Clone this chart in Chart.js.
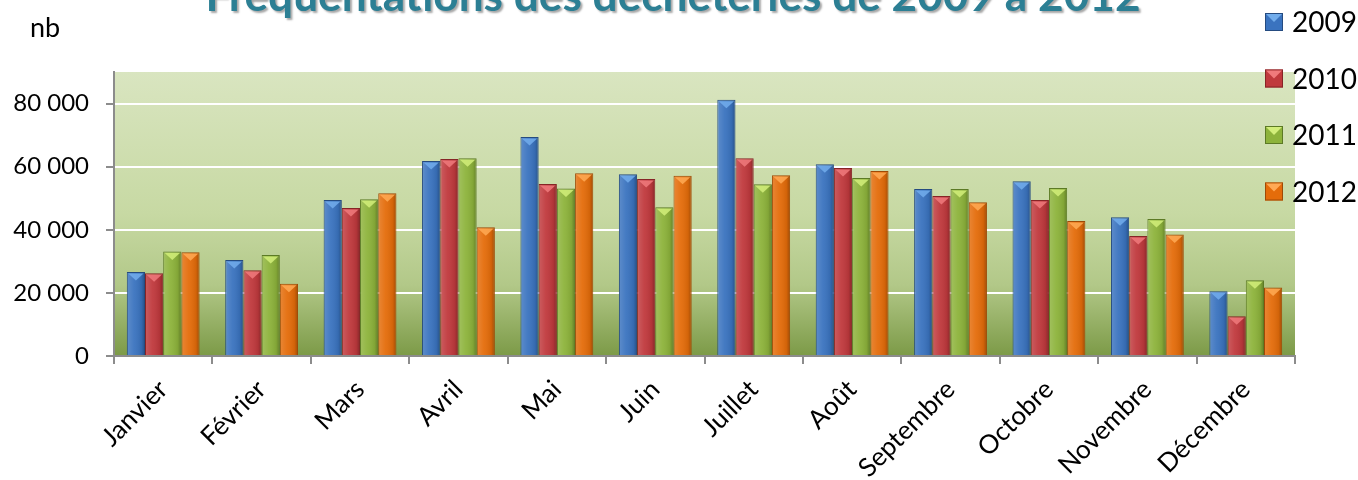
<!DOCTYPE html>
<html>
<head>
<meta charset="utf-8">
<script src="https://cdn.jsdelivr.net/npm/chart.js@4"></script>
<style>
  html, body { margin: 0; padding: 0; background: #fff; }
  #wrap { width: 1358px; height: 480px; }
</style>
</head>
<body>
<div id="wrap"><canvas id="chart"></canvas></div>
<script>
const months = ["Janvier", "Février", "Mars", "Avril", "Mai", "Juin", "Juillet", "Août", "Septembre", "Octobre", "Novembre", "Décembre"];
const years = ["2009", "2010", "2011", "2012"];

const visits2009 = [26600, 30400, 49400, 61800, 69400, 57600, 81200, 60800, 52900, 55400, 44000, 20500];
const visits2010 = [26200, 27200, 46900, 62400, 54500, 56100, 62700, 59600, 50700, 49400, 38000, 12600];
const visits2011 = [33100, 32000, 49700, 62700, 53100, 47100, 54400, 56400, 52900, 53200, 43400, 24000];
const visits2012 = [32900, 22900, 51600, 40800, 57900, 57100, 57300, 58600, 48700, 42800, 38500, 21700];

const yTicks = [0, 20000, 40000, 60000, 80000];

const barColors = ["#3a73bf", "#c0393d", "#8db33b", "#e46c0a"];
const barBorders = ["#254b80", "#862426", "#5c7a25", "#9e4a06"];
const barLights = ["#72adec", "#f07a7c", "#d2ee7a", "#ffaa55"];

const FONT = "Lato, 'Open Sans', sans-serif";

// plot background, gradient light at the top to dark olive at the bottom
const plotBackground = {
  id: 'plotBackground',
  beforeDraw(chart) {
    const { ctx, chartArea: a } = chart;
    const g = ctx.createLinearGradient(0, a.top, 0, a.bottom);
    g.addColorStop(0, '#d9e5c0');
    g.addColorStop(0.5, '#c7d9a3');
    g.addColorStop(0.75, '#b2c888');
    g.addColorStop(1, '#7c9a47');
    ctx.save();
    ctx.fillStyle = g;
    ctx.fillRect(a.left, a.top, a.right - a.left, a.bottom - a.top);
    ctx.restore();
  }
};

// bevel look on each bar: side shading and a light triangle at the top
const barBevel = {
  id: 'barBevel',
  afterDatasetsDraw(chart) {
    const ctx = chart.ctx;
    chart.data.datasets.forEach((ds, i) => {
      const meta = chart.getDatasetMeta(i);
      meta.data.forEach(bar => {
        const left = bar.x - bar.width / 2;
        const right = bar.x + bar.width / 2;
        const top = bar.y;
        const h = bar.base - bar.y;
        ctx.save();
        const g = ctx.createLinearGradient(left, 0, right, 0);
        g.addColorStop(0, 'rgba(255,255,255,0.18)');
        g.addColorStop(0.4, 'rgba(255,255,255,0.05)');
        g.addColorStop(0.8, 'rgba(0,0,0,0.08)');
        g.addColorStop(1, 'rgba(0,0,0,0.3)');
        ctx.fillStyle = g;
        ctx.fillRect(left + 1, top + 1, right - left - 2, h - 1);
        const tri = Math.min(7, h / 2);
        ctx.fillStyle = barLights[i];
        ctx.globalAlpha = 0.85;
        ctx.beginPath();
        ctx.moveTo(left + 1.5, top + 1.5);
        ctx.lineTo(right - 1.5, top + 1.5);
        ctx.lineTo(bar.x, top + 1.5 + tri);
        ctx.closePath();
        ctx.fill();
        ctx.restore();
      });
    });
  }
};

// title (cut by the top edge), axis unit and legend
const decorations = {
  id: 'decorations',
  afterDraw(chart) {
    const ctx = chart.ctx;
    ctx.save();
    // title
    const title = "Fréquentations des déchèteries de 2009 à 2012";
    ctx.font = "bold 40px " + FONT;
    const w = ctx.measureText(title).width;
    const size = 40 * 935 / w;
    ctx.font = "bold " + size.toFixed(1) + "px " + FONT;
    ctx.textAlign = 'center';
    ctx.textBaseline = 'alphabetic';
    ctx.shadowColor = 'rgba(0,0,0,0.35)';
    ctx.shadowOffsetX = 2;
    ctx.shadowOffsetY = 2;
    ctx.shadowBlur = 2;
    ctx.fillStyle = '#2c7f94';
    ctx.fillText(title, 673, 11);
    ctx.shadowColor = 'transparent';

    // unit
    ctx.font = "27px " + FONT;
    ctx.fillStyle = '#000';
    ctx.textAlign = 'left';
    ctx.fillText("nb", 30, 37);

    // legend
    ctx.font = "28px " + FONT;
    ctx.textBaseline = 'middle';
    chart.data.datasets.forEach((ds, i) => {
      const cy = 22 + i * 56.5;
      const bx = 1265, by = cy - 9;
      ctx.fillStyle = barColors[i];
      ctx.fillRect(bx, by, 18, 18);
      ctx.strokeStyle = barBorders[i];
      ctx.lineWidth = 1;
      ctx.strokeRect(bx + 0.5, by + 0.5, 17, 17);
      ctx.fillStyle = barLights[i];
      ctx.beginPath();
      ctx.moveTo(bx + 1, by + 1);
      ctx.lineTo(bx + 17, by + 1);
      ctx.lineTo(bx + 9, by + 9);
      ctx.closePath();
      ctx.fill();
      ctx.fillStyle = '#000';
      ctx.fillText(ds.label, 1292, cy + 1);
    });
    ctx.restore();
  }
};

const seriesValues = [visits2009, visits2010, visits2011, visits2012];

new Chart(
  document.getElementById('chart'),
  {
    type: 'bar',
    data: {
      labels: months,
      datasets: years.map((y, i) => ({
        label: y,
        data: seriesValues[i],
        backgroundColor: barColors[i],
        borderColor: barBorders[i],
        borderWidth: 1,
        categoryPercentage: 0.74,
        barPercentage: 1
      }))
    },
    options: {
      responsive: true,
      maintainAspectRatio: false,
      animation: false,
      layout: {
        padding: { left: 0, right: 63, top: 72, bottom: 0 }
      },
      plugins: {
        legend: { display: false },
        title: { display: false },
        tooltip: { enabled: false }
      },
      scales: {
        x: {
          afterFit: scale => { scale.height = 124; },
          border: { color: '#8c8c8c', width: 2 },
          grid: {
            drawOnChartArea: false,
            tickColor: '#8c8c8c',
            tickLength: 8,
            lineWidth: 2
          },
          ticks: {
            minRotation: 45,
            maxRotation: 45,
            padding: 10,
            color: '#000',
            font: { family: FONT, size: 26 }
          }
        },
        y: {
          min: 0,
          max: 90000,
          afterFit: scale => { scale.width = 114; },
          afterBuildTicks: scale => { scale.ticks = yTicks.map(v => ({ value: v })); },
          border: { color: '#8c8c8c', width: 2 },
          grid: {
            color: '#ffffff',
            lineWidth: 2,
            tickColor: '#8c8c8c',
            tickLength: 8
          },
          ticks: {
            padding: 17,
            color: '#000',
            font: { family: FONT, size: 24 },
            callback: v => v.toLocaleString('fr-FR').replace(/\s/g, ' ')
          }
        }
      }
    },
    plugins: [plotBackground, barBevel, decorations]
  }
);
</script>
</body>
</html>
